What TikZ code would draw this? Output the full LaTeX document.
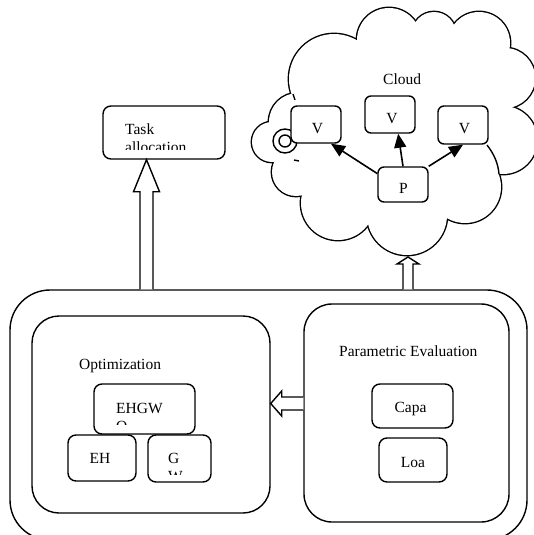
\documentclass[tikz,border=0pt]{standalone}
\usepackage{fontspec}
\setmainfont{Liberation Serif}
\usetikzlibrary{arrows.meta,calc}
\newcommand{\hollowup}[5]{% start, tip, shaft half, head half, head length
  \draw[hollow] ($(#1)+(-#3,0)$) -- ($(#2)+(-#3,#5)$) -- ($(#2)+(-#4,#5)$) -- (#2)
    -- ($(#2)+(#4,#5)$) -- ($(#2)+(#3,#5)$) -- ($(#1)+(#3,0)$);}
\newcommand{\hollowleft}[5]{% start, tip, shaft half, head half, head length
  \draw[hollow] ($(#1)+(0,-#3)$) -- ($(#2)+(#5,-#3)$) -- ($(#2)+(#5,-#4)$) -- (#2)
    -- ($(#2)+(#5,#4)$) -- ($(#2)+(#5,#3)$) -- ($(#1)+(0,#3)$);}
\begin{document}
\begin{tikzpicture}[x=1pt,y=-1pt,
  rbox/.style={draw, line width=1.4pt, inner sep=0pt, fill=white},
  obox/.style={draw, line width=1.4pt, inner sep=0pt},
  txt/.style={inner sep=0pt, font=\fontsize{15.5}{18}\selectfont},
  hollow/.style={draw, line width=1.4pt, fill=white, line join=miter},
  sarrow/.style={line width=1.6pt, -{Triangle[length=14pt,width=12pt]}},
  cline/.style={line width=1.4pt}]
\useasboundingbox (0,0) rectangle (534,535);

% ---------- cloud ----------
\def\cloudcircles{334/79/45, 389/40/32, 434/34/22, 479/43/31, 505/78/30, 503/140/34,
  465/187/36, 407/215/40, 338/203/37, 296/172/24, 272/142/20, 298/122/29}
\foreach \cx/\cy/\r in \cloudcircles
  \draw[line width=2.8pt] (\cx,\cy) circle[radius=\r];
\foreach \cx/\cy/\r in \cloudcircles
  \fill[white] (\cx,\cy) circle[radius=\r];
\fill[white] (334,79) -- (389,40) -- (434,34) -- (479,43) -- (505,78) -- (503,140)
  -- (465,187) -- (407,215) -- (338,203) -- (296,172) -- (272,142) -- (298,122) -- cycle;
% inner puff arcs
\draw[cline] (487,145) .. controls (494,154) and (498,163) .. (499,174);
\draw[cline] (294,160) -- (299,161);
\draw[cline] (293,94) -- (295,100);
\draw[line width=1.4pt] (285,141) circle[radius=12];
\draw[line width=1.4pt] (285,141) circle[radius=6];
\coordinate (cloudbot) at (408,257);
\node[txt, anchor=base west] (cloudt) at (383,84) {Cloud};

% ---------- lower frame ----------
\node[obox, minimum width=517, minimum height=250, rounded corners=40] (outer) at (268.5,415) {};
\node[obox, minimum width=238, minimum height=197, rounded corners=27] (opt) at (151,414.5) {};
\node[obox, minimum width=205, minimum height=218, rounded corners=28] (par) at (406.5,413) {};

% ---------- hollow arrows ----------
\coordinate (ax1) at (146.5,0);
\coordinate (ax2) at (408,0);
\coordinate (ay1) at (0,403.5);
\coordinate (upS) at (outer.north -| ax1);
\coordinate (clS) at (outer.north -| ax2);
\coordinate (ltS) at (par.west |- ay1);
\coordinate (ltT) at (opt.east |- ay1);

% task allocation
\node[rbox, minimum width=122, minimum height=53, rounded corners=8] (task) at (164,132.5) {};
\coordinate (upT) at (task.south -| ax1);
\hollowup{upS}{upT}{6.5}{13}{32}
\hollowup{clS}{cloudbot}{5}{11}{7}
\hollowleft{ltS}{ltT}{6.5}{12.5}{11}

\begin{scope}
  \clip (103,106) rectangle (225,149);
  \node[txt, anchor=base west] (task1) at (125,134) {Task};
  \node[txt, anchor=base west] (task2) at (125,152) {allocation};
\end{scope}

% ---------- cloud boxes ----------
\node[rbox, minimum width=50, minimum height=37, rounded corners=6] (v1) at (316,124.5) {};
\node[rbox, minimum width=50, minimum height=37, rounded corners=6] (v2) at (390,114.5) {};
\node[rbox, minimum width=50, minimum height=38, rounded corners=6] (v3) at (463,125) {};
\node[rbox, minimum width=50, minimum height=35, rounded corners=6] (p) at (403,184.5) {};
\node[txt, anchor=base] (v1t) at (317.5,133) {V};
\node[txt, anchor=base] (v2t) at (392,123) {V};
\node[txt, anchor=base] (v3t) at (464.5,133) {V};
\node[txt, anchor=base] (pt) at (403.5,193) {P};
\draw[sarrow] (p.157) -- (v1.-52);
\draw[sarrow] (p.north) -- (v2.-67);
\draw[sarrow] (p.north east) -- (v3.south);

% ---------- optimization ----------
\node[txt, anchor=base west] (optt) at (79,369) {Optimization};
\node[rbox, minimum width=101, minimum height=50, rounded corners=8] (ehgw) at (144.5,409) {};
\node[rbox, minimum width=68, minimum height=46, rounded corners=8] (eh) at (102,458) {};
\node[rbox, minimum width=63, minimum height=47, rounded corners=8] (g) at (179.5,458.5) {};
\begin{scope}
  \clip (94,384) rectangle (195,424);
  \node[txt, anchor=base west] (ehgw1) at (116,413) {EHGW};
  \node[txt, anchor=base west] (ehgw2) at (116,431) {O};
\end{scope}
\node[txt, anchor=base] (eht) at (100,463) {EH};
\begin{scope}
  \clip (148,435) rectangle (211,474);
  \node[txt, anchor=base west] (g1) at (168,463) {G};
  \node[txt, anchor=base west] (g2) at (168,481) {W};
\end{scope}

% ---------- parametric evaluation ----------
\node[txt, anchor=base west] (part) at (339,356) {Parametric Evaluation};
\node[rbox, minimum width=81, minimum height=44, rounded corners=8] (capa) at (412.5,406) {};
\node[rbox, minimum width=68, minimum height=44, rounded corners=8] (loa) at (413,460) {};
\node[txt, anchor=base] (capat) at (410.5,412) {Capa};
\node[txt, anchor=base] (loat) at (413,467) {Loa};
\end{tikzpicture}
\end{document}
